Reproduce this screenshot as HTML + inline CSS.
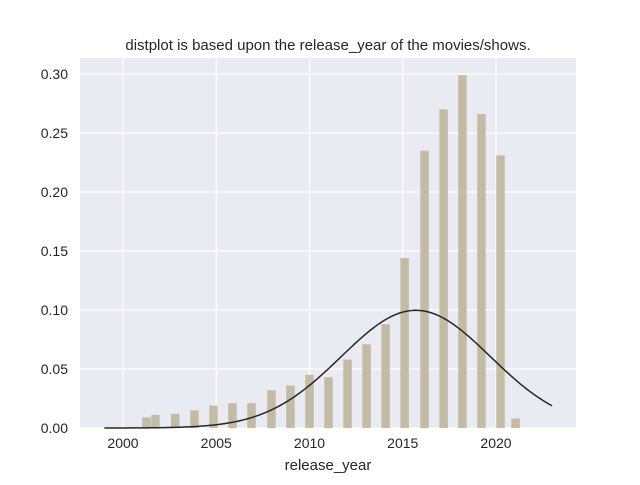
<!DOCTYPE html>
<html><head><meta charset="utf-8"><style>
body{margin:0;background:#fff;}
text{font-family:"Liberation Sans",sans-serif;fill:#262626;}
</style></head><body>
<svg width="640" height="480" id="chart">
<rect x="80" y="58" width="496" height="370" fill="#eaeaf2"/>
<g id="grid"></g><g id="bars"></g><g id="curve"></g><g id="ticks"></g>
<text x="328" y="50" text-anchor="middle" font-size="15">distplot is based upon the release_year of the movies/shows.</text>
<text x="328" y="470" text-anchor="middle" font-size="15">release_year</text>
</svg>
<script>
const binCenters=[2001.26,2001.74,2002.8,2003.83,2004.85,2005.87,2006.89,2007.96,2008.98,2010.0,2011.02,2012.04,2013.06,2014.08,2015.1,2016.17,2017.19,2018.2,2019.22,2020.24,2021.05];
const densities=[0.009,0.011,0.012,0.015,0.019,0.021,0.021,0.032,0.036,0.045,0.043,0.058,0.071,0.088,0.144,0.235,0.270,0.299,0.266,0.231,0.008];
const xTicks=[2000,2005,2010,2015,2020];
const yTicks=[0,0.05,0.10,0.15,0.20,0.25,0.30];
const fitMean=2015.7, fitSigma=4.0, fitStart=1999, fitEnd=2023;
const X=v=>123+(v-2000)*18.65, Y=v=>428-v*1180;
const NS="http://www.w3.org/2000/svg";
function mk(t,a,p){const e=document.createElementNS(NS,t);for(const k in a)e.setAttribute(k,a[k]);p.appendChild(e);return e;}
const grid=document.getElementById('grid'),bars=document.getElementById('bars'),ticks=document.getElementById('ticks'),curve=document.getElementById('curve');
xTicks.forEach(t=>{
 const l=mk('line',{x1:X(t),x2:X(t),y1:58,y2:428,stroke:'#fff','stroke-width':1.2},grid);
 
 
 const s=mk('text',{x:X(t),y:448,'text-anchor':'middle','font-size':14},ticks);s.textContent=t;
 
 
});
yTicks.forEach(t=>{
 const l=mk('line',{x1:80,x2:576,y1:Y(t),y2:Y(t),stroke:'#fff','stroke-width':1.2},grid);
 
 
 const s=mk('text',{x:68,y:Y(t)+5,'text-anchor':'end','font-size':14},ticks);s.textContent=t.toFixed(2);
 
 
});
binCenters.forEach((c,i)=>{
 const w=8.5;
 const r=mk('rect',{x:X(c)-w/2,y:Y(densities[i]),width:w,height:Y(0)-Y(densities[i]),fill:'#c2bca6'},bars);
 
 
});
let d='';
for(let k=0;k<=200;k++){const x=fitStart+(fitEnd-fitStart)*k/200;const z=(x-fitMean)/fitSigma;const p=Math.exp(-z*z/2)/(fitSigma*Math.sqrt(2*Math.PI));d+=(k?'L':'M')+X(x).toFixed(2)+','+Y(p).toFixed(2);}
const path=mk('path',{d:d,fill:'none',stroke:'#262626','stroke-width':1.5},curve);


</script>
</body></html>
